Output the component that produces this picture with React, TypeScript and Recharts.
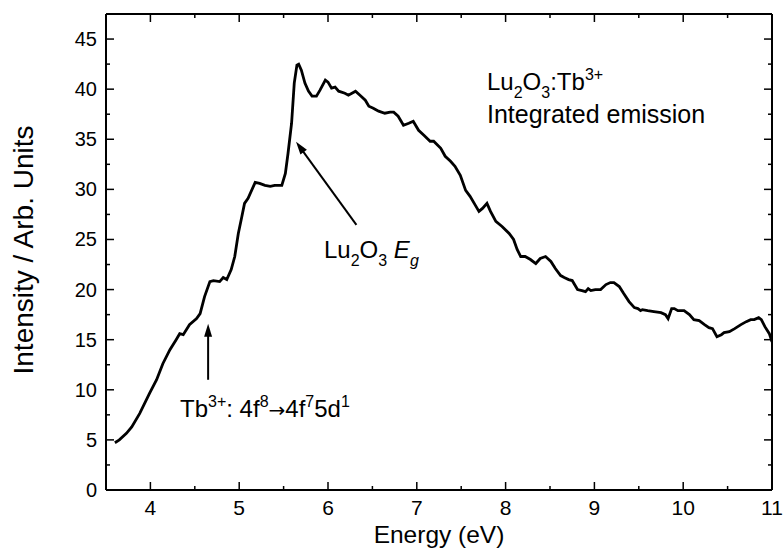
import React from "react"
import { LineChart, Line, XAxis, YAxis, ReferenceLine } from "recharts"

// energy (eV) and integrated emission intensity
const energy = [
  3.6, 3.65, 3.73, 3.79, 3.88, 3.99, 4.07, 4.14, 4.22, 4.29, 4.33, 4.37, 4.44, 4.52, 4.56, 4.61,
  4.67, 4.71, 4.78, 4.82, 4.86, 4.91, 4.95, 4.99, 5.03, 5.06, 5.1, 5.18, 5.23, 5.29, 5.35, 5.4,
  5.48, 5.52, 5.55, 5.59, 5.62, 5.65, 5.67, 5.7, 5.74, 5.78, 5.82, 5.87, 5.91, 5.97, 6.0, 6.04,
  6.08, 6.12, 6.19, 6.23, 6.31, 6.36, 6.42, 6.46, 6.51, 6.57, 6.64, 6.7, 6.74, 6.79, 6.85, 6.91,
  6.96, 7.02, 7.08, 7.15, 7.19, 7.27, 7.32, 7.38, 7.43, 7.49, 7.55, 7.6, 7.66, 7.7, 7.74, 7.79,
  7.83, 7.89, 7.96, 8.04, 8.09, 8.13, 8.17, 8.22, 8.28, 8.34, 8.39, 8.45, 8.51, 8.56, 8.62, 8.66,
  8.71, 8.75, 8.81, 8.86, 8.9, 8.93, 8.96, 9.01, 9.07, 9.13, 9.18, 9.22, 9.28, 9.33, 9.39, 9.45,
  9.49, 9.52, 9.54, 9.6, 9.67, 9.75, 9.8, 9.83, 9.87, 9.9, 9.94, 10.01, 10.07, 10.12, 10.18, 10.24,
  10.29, 10.33, 10.38, 10.43, 10.46, 10.52, 10.58, 10.65, 10.71, 10.76, 10.8, 10.85, 10.88, 10.92,
  10.97, 11.0,
]
const intensity = [
  4.72, 5.0, 5.65, 6.3, 7.65, 9.65, 11.0, 12.6, 14.0, 15.0, 15.6, 15.5, 16.5, 17.1, 17.6, 19.3,
  20.8, 20.9, 20.8, 21.2, 21.0, 22.0, 23.3, 25.6, 27.3, 28.6, 29.1, 30.7, 30.6, 30.4, 30.3, 30.4,
  30.4, 31.6, 33.6, 36.6, 40.6, 42.4, 42.5, 41.9, 40.6, 39.8, 39.3, 39.3, 39.9, 40.9, 40.7, 40.1,
  40.2, 39.8, 39.6, 39.4, 39.8, 39.4, 38.9, 38.3, 38.1, 37.8, 37.6, 37.7, 37.7, 37.3, 36.4, 36.6,
  36.8, 35.9, 35.4, 34.8, 34.8, 34.1, 33.3, 32.8, 32.3, 31.4, 29.9, 29.3, 28.4, 27.8, 28.1, 28.6,
  27.8, 26.8, 26.3, 25.6, 25.0, 24.0, 23.3, 23.3, 23.0, 22.6, 23.1, 23.3, 22.8, 22.1, 21.4, 21.2,
  21.0, 20.9, 20.0, 19.9, 19.8, 20.1, 19.9, 20.0, 20.0, 20.5, 20.7, 20.7, 20.3, 19.6, 18.8, 18.2,
  18.1, 17.9, 18.0, 17.9, 17.8, 17.7, 17.5, 17.1, 18.1, 18.1, 17.9, 17.9, 17.5, 17.0, 16.9, 16.5,
  16.2, 16.1, 15.3, 15.5, 15.7, 15.8, 16.1, 16.5, 16.8, 17.0, 17.0, 17.2, 17.0, 16.3,
  15.6, 14.8,
]

const xTicks = [3.5, 4, 4.5, 5, 5.5, 6, 6.5, 7, 7.5, 8, 8.5, 9, 9.5, 10, 10.5, 11]
const yTicks = [0, 2.5, 5, 7.5, 10, 12.5, 15, 17.5, 20, 22.5, 25, 27.5, 30, 32.5, 35, 37.5, 40, 42.5, 45, 47.5]

// arrow annotations: [tail, head] in data units
const tbArrow = [{ x: 4.65, y: 11.0 }, { x: 4.65, y: 16.6 }]
const gapArrow = [{ x: 6.32, y: 26.45 }, { x: 5.64, y: 34.76 }]

const data = energy.map((e, i) => ({ e, v: intensity[i] }))

const FONT = "'Liberation Sans', Arial, sans-serif"
const W = 784
const H = 548

function BottomTick({ x, y, payload }: any) {
  const v = payload.value
  const major = Number.isInteger(v)
  return (
    <g>
      <line x1={x} x2={x} y1={y} y2={y - (major ? 8 : 4)} stroke="#000" strokeWidth={1.5} />
      {major && (
        <text x={x} y={y + 25} textAnchor="middle" fontSize={21} fontFamily={FONT} fill="#000">
          {v}
        </text>
      )}
    </g>
  )
}

function TopTick({ x, y, payload }: any) {
  const major = Number.isInteger(payload.value)
  return <line x1={x} x2={x} y1={y} y2={y + (major ? 8 : 4)} stroke="#000" strokeWidth={1.5} />
}

function LeftTick({ x, y, payload }: any) {
  const v = payload.value
  const major = v % 5 === 0
  return (
    <g>
      <line x1={x} x2={x + (major ? 8 : 4)} y1={y} y2={y} stroke="#000" strokeWidth={1.5} />
      {major && (
        <text x={x - 9} y={y + 7} textAnchor="end" fontSize={20} fontFamily={FONT} fill="#000">
          {v}
        </text>
      )}
    </g>
  )
}

function RightTick({ x, y, payload }: any) {
  const major = payload.value % 5 === 0
  return <line x1={x} x2={x - (major ? 8 : 4)} y1={y} y2={y} stroke="#000" strokeWidth={1.5} />
}

function Arrow({ x1, y1, x2, y2 }: any) {
  const dx = x2 - x1
  const dy = y2 - y1
  const len = Math.hypot(dx, dy)
  const ux = dx / len
  const uy = dy / len
  const hl = 13
  const hw = 4
  const bx = x2 - ux * hl
  const by = y2 - uy * hl
  return (
    <g>
      <line x1={x1} y1={y1} x2={bx + ux * 2} y2={by + uy * 2} stroke="#000" strokeWidth={2} />
      <polygon
        points={`${x2},${y2} ${bx - uy * hw},${by + ux * hw} ${bx + uy * hw},${by - ux * hw}`}
        fill="#000"
      />
    </g>
  )
}

const sub = { fontSize: 16 }

export default function App() {
  const axisLine = { stroke: "#000", strokeWidth: 2 }
  return (
    <div style={{ position: "absolute", left: 0, top: 0, width: W, height: H, background: "#fff" }}>
      <LineChart width={W} height={H} data={data} margin={{ top: 13, right: 11, bottom: 57, left: 105 }}>
        <XAxis
          dataKey="e"
          type="number"
          domain={[3.5, 11]}
          ticks={xTicks}
          interval={0}
          height={1}
          tickSize={0}
          tickMargin={0}
          tickLine={false}
          axisLine={axisLine}
          tick={<BottomTick />}
          allowDataOverflow
        />
        <XAxis
          xAxisId="top"
          dataKey="e"
          orientation="top"
          type="number"
          domain={[3.5, 11]}
          ticks={xTicks}
          interval={0}
          height={1}
          tickSize={0}
          tickMargin={0}
          tickLine={false}
          axisLine={axisLine}
          tick={<TopTick />}
          allowDataOverflow
        />
        <YAxis
          type="number"
          domain={[0, 47.5]}
          ticks={yTicks}
          interval={0}
          width={1}
          tickSize={0}
          tickMargin={0}
          tickLine={false}
          axisLine={axisLine}
          tick={<LeftTick />}
          allowDataOverflow
        />
        <YAxis
          yAxisId="right"
          orientation="right"
          type="number"
          domain={[0, 47.5]}
          ticks={yTicks}
          interval={0}
          width={1}
          tickSize={0}
          tickMargin={0}
          tickLine={false}
          axisLine={axisLine}
          tick={<RightTick />}
          allowDataOverflow
        />
        {/* invisible twin so the mirrored top/right axes get a scale */}
        <Line
          xAxisId="top"
          yAxisId="right"
          type="linear"
          dataKey="v"
          stroke="none"
          dot={false}
          activeDot={false}
          isAnimationActive={false}
        />
        <Line
          type="linear"
          dataKey="v"
          stroke="#000"
          strokeWidth={2.8}
          dot={false}
          isAnimationActive={false}
        />
        <ReferenceLine segment={tbArrow} shape={<Arrow />} ifOverflow="visible" />
        <ReferenceLine segment={gapArrow} shape={<Arrow />} ifOverflow="visible" />
      </LineChart>
      <svg
        width={W}
        height={H}
        style={{ position: "absolute", left: 0, top: 0, pointerEvents: "none" }}
        fontFamily={FONT}
        fill="#000"
      >
        <text x={439} y={543} textAnchor="middle" fontSize={24.5}>
          Energy (eV)
        </text>
        <text transform="translate(33,250) rotate(-90)" textAnchor="middle" fontSize={28}>
          Intensity / Arb. Units
        </text>
        <text x={487} y={90} fontSize={24}>
          Lu<tspan dy={8} style={sub}>2</tspan>
          <tspan dy={-8}>O</tspan>
          <tspan dy={8} style={sub}>3</tspan>
          <tspan dy={-8}>:Tb</tspan>
          <tspan dy={-10} style={sub}>3+</tspan>
        </text>
        <text x={487} y={123} fontSize={25}>
          Integrated emission
        </text>
        <text x={324} y={258} fontSize={24}>
          Lu<tspan dy={8} style={sub}>2</tspan>
          <tspan dy={-8}>O</tspan>
          <tspan dy={8} style={sub}>3</tspan>
          <tspan dy={-8} fontStyle="italic"> E</tspan>
          <tspan dy={8} style={sub} fontStyle="italic">g</tspan>
        </text>
        <text x={180} y={417} fontSize={24}>
          Tb<tspan dy={-10} style={sub}>3+</tspan>
          <tspan dy={10}>: 4f</tspan>
          <tspan dy={-10} style={sub}>8</tspan>
          <tspan dy={10} fontSize={20} fontFamily="'DejaVu Sans'">→</tspan>
          <tspan>4f</tspan>
          <tspan dy={-10} style={sub}>7</tspan>
          <tspan dy={10}>5d</tspan>
          <tspan dy={-10} style={sub}>1</tspan>
        </text>
      </svg>
    </div>
  )
}
